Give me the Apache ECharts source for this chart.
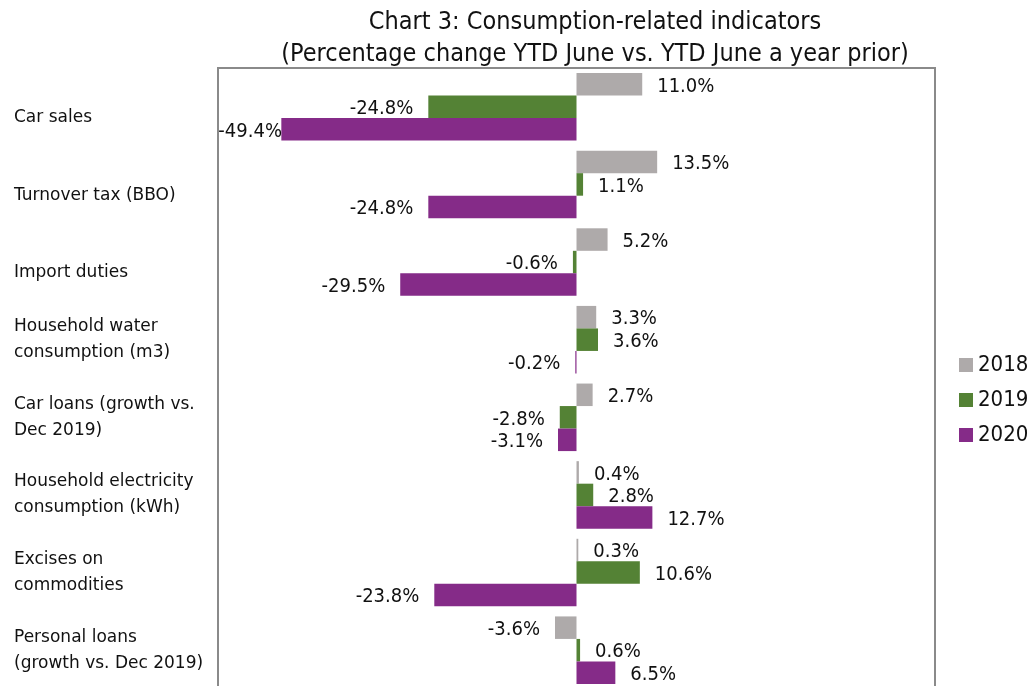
<!DOCTYPE html>
<html lang="en">

<head>
  <meta charset="utf-8">
  <title>Chart 3: Consumption-related indicators</title>
  <style>
    * {
      margin: 0;
      padding: 0;
    }

    #chart-container {
      position: relative;
      width: 1031px;
      height: 686px;
      overflow: hidden;
      background: #fff;
    }
  </style>
</head>

<body>
  <div id="chart-container"></div>
  <script src="https://fastly.jsdelivr.net/npm/echarts@6/dist/echarts.min.js"></script>
  <script>
    var dom = document.getElementById('chart-container');
    var myChart = echarts.init(dom, null, {
      renderer: 'canvas',
      useDirtyRect: false
    });

    // categories, top to bottom
    const categories = [
      'Car sales',
      'Turnover tax (BBO)',
      'Import duties',
      'Household water\nconsumption (m3)',
      'Car loans (growth vs.\nDec 2019)',
      'Household electricity\nconsumption (kWh)',
      'Excises on\ncommodities',
      'Personal loans\n(growth vs. Dec 2019)'
    ];
    const seriesNames = ['2018', '2019', '2020'];
    const values2018 = [11.0, 13.5, 5.2, 3.3, 2.7, 0.4, 0.3, -3.6];
    const values2019 = [-24.8, 1.1, -0.6, 3.6, -2.8, 2.8, 10.6, 0.6];
    const values2020 = [-49.4, -24.8, -29.5, -0.2, -3.1, 12.7, -23.8, 6.5];
    const colors = ['#AEAAAA', '#548235', '#852B88'];

    const narrow = "'Liberation Sans Narrow', 'DejaVu Sans Condensed', sans-serif";

    function makeSeries(name, data, color) {
      return {
        name: name,
        type: 'bar',
        barGap: '0%',
        barCategoryGap: '13%',
        itemStyle: { color: color },
        label: {
          show: true,
          position: 'outside',
          distance: 15,
          offset: [0, 2],
          fontFamily: narrow,
          fontSize: 20,
          color: '#111',
          formatter: function (p) {
            return p.value.toFixed(1) + '%';
          }
        },
        // labels that would run past the plot edge are pulled back inside, as Excel does
        data: data.map(function (v) {
          if (v < -45) {
            return { value: v, label: { position: 'insideLeft', distance: 0, offset: [-63, 2] } };
          }
          return v;
        })
      };
    }

    var option = {
      animation: false,
      color: colors,
      title: {
        text: 'Chart 3: Consumption-related indicators\n(Percentage change YTD June vs. YTD June a year prior)',
        left: 590,
        textAlign: 'center',
        top: 1,
        textStyle: {
          fontFamily: narrow,
          fontSize: 25,
          fontWeight: 'normal',
          lineHeight: 32,
          color: '#111'
        }
      },
      legend: {
        orient: 'vertical',
        left: 954,
        top: 349,
        itemWidth: 14,
        itemHeight: 14,
        itemGap: 13,
        icon: 'rect',
        textStyle: {
          fontFamily: narrow,
          fontSize: 22,
          color: '#111'
        },
        data: seriesNames
      },
      grid: {
        left: 218,
        right: 96,
        top: 68,
        bottom: -3,
        outerBoundsMode: 'none',
        show: true,
        borderColor: '#8a8a8a',
        borderWidth: 2
      },
      xAxis: {
        type: 'value',
        min: -60,
        max: 60,
        show: false
      },
      yAxis: {
        type: 'category',
        inverse: true,
        data: categories,
        axisLine: { show: false },
        axisTick: { show: false },
        splitLine: { show: false },
        axisLabel: {
          align: 'left',
          margin: 204,
          color: '#111',
          fontFamily: "'DejaVu Sans', sans-serif",
          fontSize: 17,
          lineHeight: 26,
          formatter: function (v) {
            return v.indexOf('\n') < 0 ? '{s|' + v + '}' : v;
          },
          rich: {
            s: {
              fontFamily: "'DejaVu Sans', sans-serif",
              fontSize: 17,
              color: '#111',
              padding: [22, 0, 0, 0]
            }
          }
        }
      },
      series: [
        makeSeries(seriesNames[0], values2018, colors[0]),
        makeSeries(seriesNames[1], values2019, colors[1]),
        makeSeries(seriesNames[2], values2020, colors[2])
      ]
    };

    myChart.setOption(option);
    window.addEventListener('resize', myChart.resize);
  </script>
</body>

</html>
